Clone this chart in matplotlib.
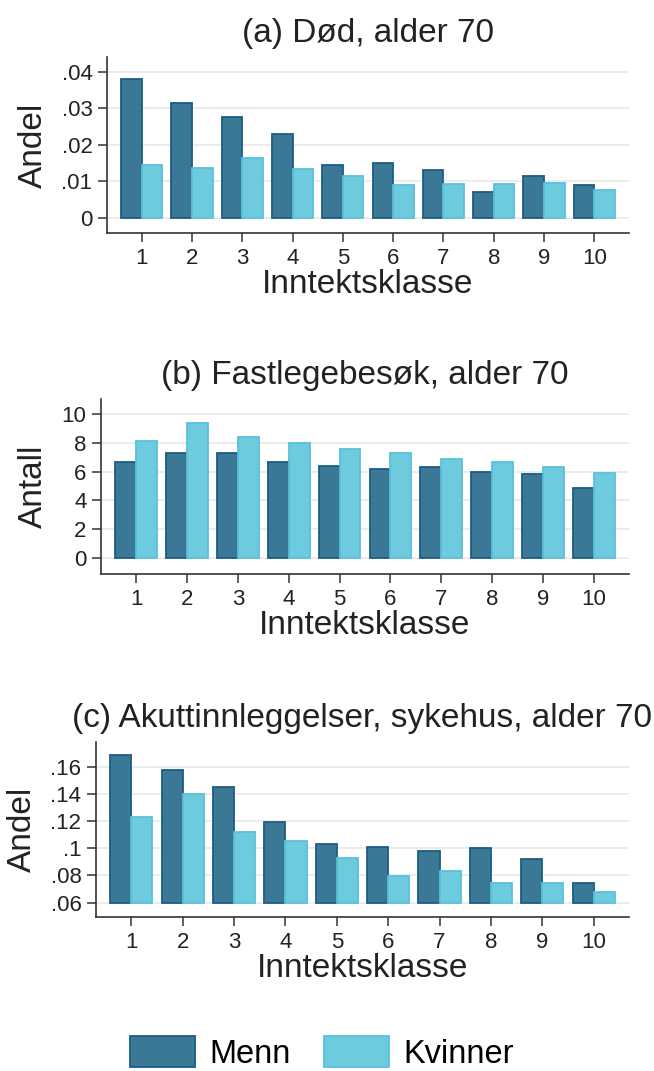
import numpy as np
import matplotlib
matplotlib.use('Agg')
from matplotlib import pyplot as plt
from matplotlib.patches import Patch

plt.rcParams['font.family'] = ['Liberation Sans', 'DejaVu Sans']

# data
klasse = [1, 2, 3, 4, 5, 6, 7, 8, 9, 10]

dod_menn = [0.0380, 0.0314, 0.0276, 0.0229, 0.0144, 0.0149, 0.0130, 0.0070, 0.0114, 0.0089]
dod_kvinner = [0.0144, 0.0136, 0.0163, 0.0133, 0.0114, 0.0089, 0.0092, 0.0093, 0.0094, 0.0075]

lege_menn = [6.69, 7.31, 7.31, 6.69, 6.39, 6.21, 6.35, 6.00, 5.80, 4.84]
lege_kvinner = [8.13, 9.36, 8.40, 7.99, 7.58, 7.31, 6.89, 6.64, 6.35, 5.91]

akutt_menn = [0.1684, 0.1578, 0.1454, 0.1195, 0.1032, 0.1010, 0.0980, 0.1002, 0.0921, 0.0748]
akutt_kvinner = [0.1232, 0.1402, 0.1123, 0.1057, 0.0928, 0.0795, 0.0832, 0.0743, 0.0743, 0.0677]

titler = ['(a) Død, alder 70', '(b) Fastlegebesøk, alder 70', '(c) Akuttinnleggelser, sykehus, alder 70']
ylabels = ['Andel', 'Antall', 'Andel']
yticks = [[0, 0.01, 0.02, 0.03, 0.04], [0, 2, 4, 6, 8, 10], [0.06, 0.08, 0.10, 0.12, 0.14, 0.16]]
ytick_labels = [['0', '.01', '.02', '.03', '.04'],
                ['0', '2', '4', '6', '8', '10'],
                ['.06', '.08', '.1', '.12', '.14', '.16']]
ylims = [(-0.0042, 0.0441), (-1.10, 11.03), (0.0494, 0.1783)]
bunn = [0, 0, 0.06]

c_menn, e_menn = '#3b7896', '#1d5c85'
c_kv, e_kv = '#6ecadd', '#58c0db'

W, H = 654, 1071
fig = plt.figure(figsize=(W / 100, H / 100), dpi=100)

# axes boxes in pixels: left, top, right, bottom
bokser = [(107, 57, 629, 233), (101, 399, 629, 574), (96, 742, 629, 917)]

serier = [(dod_menn, dod_kvinner), (lege_menn, lege_kvinner), (akutt_menn, akutt_kvinner)]

x = np.array(klasse)
bw = 0.41
fs = 24
for i in range(3):
    l, t, r, b = bokser[i]
    ax = fig.add_axes([l / W, 1 - b / H, (r - l) / W, (b - t) / H])
    menn, kv = serier[i]
    ax.bar(x - bw / 2, np.array(menn) - bunn[i], bw, bottom=bunn[i], color=c_menn,
           edgecolor=e_menn, linewidth=1.3, zorder=3)
    ax.bar(x + bw / 2, np.array(kv) - bunn[i], bw, bottom=bunn[i], color=c_kv,
           edgecolor=e_kv, linewidth=1.3, zorder=3)
    ax.set_xlim(0.31, 10.69)
    ax.set_ylim(*ylims[i])
    ax.set_xticks(klasse)
    ax.set_yticks(yticks[i])
    ax.set_yticklabels(ytick_labels[i])
    ax.yaxis.grid(True, color='#ebebeb', linewidth=1.3, zorder=0)
    ax.set_axisbelow(True)
    for s in ['top', 'right']:
        ax.spines[s].set_visible(False)
    for s in ['left', 'bottom']:
        ax.spines[s].set_color('#333333')
        ax.spines[s].set_linewidth(1.2)
    ax.tick_params(length=6.5, width=1.1, color='#333333', labelsize=16,
                   labelcolor='#222222', pad=4)
    ax.set_title(titler[i], fontsize=fs, color='#222222', pad=11)
    ax.set_xlabel('Inntektsklasse', fontsize=fs, color='#222222', labelpad=0)
    ax.set_ylabel(ylabels[i], fontsize=fs, color='#222222', labelpad=9)

handles = [Patch(facecolor=c_menn, edgecolor=e_menn, linewidth=1.3, label='Menn'),
           Patch(facecolor=c_kv, edgecolor=e_kv, linewidth=1.3, label='Kvinner')]
fig.legend(handles=handles, loc='upper center', bbox_to_anchor=(0.492, 1 - 1036 / H),
           ncol=2, frameon=False, fontsize=23.5, handlelength=2.0, handleheight=1.1,
           handletextpad=0.45, columnspacing=1.0, borderpad=0, borderaxespad=0)

fig.savefig('out.png', dpi=100)
